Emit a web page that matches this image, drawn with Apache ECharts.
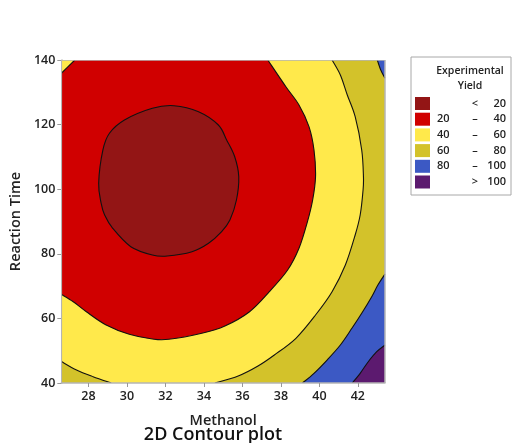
<!DOCTYPE html>
<html>
<head>
<meta charset="utf-8">
<script src="https://cdn.jsdelivr.net/npm/echarts@6/dist/echarts.min.js"></script>
<style>
  html, body { margin: 0; padding: 0; background: #fff; }
  #chart { width: 512px; height: 443px; }
</style>
</head>
<body>
<div id="chart"></div>
<script>
// Axis ranges and tick labels
const xRange = [26.59, 43.41];
const yRange = [40, 140];
const xTicks = [28, 30, 32, 34, 36, 38, 40, 42];
const yTicks = [40, 60, 80, 100, 120, 140];

// Yield levels (legend rows): low, separator, high
const levelRows = [
  ['', '<', '20'],
  ['20', '–', '40'],
  ['40', '–', '60'],
  ['60', '–', '80'],
  ['80', '–', '100'],
  ['', '>', '100']
];
const levelColors = ['#931515', '#D00000', '#FFE94B', '#D3C22A', '#3C59C4', '#5C1A6F'];

// Contour lines of the yield surface, [Methanol, Reaction Time]
const contour20 = [
  [32.44, 125.85], [33.72, 123.99], [34.75, 119.88], [35.18, 115.23], [35.60, 110.06],
  [35.81, 103.87], [35.69, 96.66], [35.35, 90.46], [34.92, 86.84], [34.24, 83.25],
  [33.38, 80.65], [32.09, 79.32], [31.32, 79.63], [30.20, 82.20], [29.26, 87.89],
  [28.84, 92.01], [28.66, 95.63], [28.53, 101.83], [28.75, 112.14], [29.09, 117.31],
  [29.87, 121.42], [31.32, 125.05]
];
const contour40Corner = [[27.29, 140], [26.59, 135.88]];
const contour40 = [
  [26.59, 67.46], [27.21, 65.17], [27.89, 62.07], [28.92, 57.96], [30.12, 55.08],
  [31.32, 53.62], [32.18, 53.53], [33.89, 55.39], [35.09, 57.65], [36.37, 62.07],
  [37.40, 68.27], [38.35, 74.98], [38.94, 81.70], [39.38, 89.94], [39.65, 96.66],
  [39.80, 103.87], [39.72, 112.14], [39.46, 119.35], [38.94, 126.07], [38.26, 131.73],
  [37.32, 140]
];
const contour60Corner = [[26.59, 46.66], [27.38, 44.02], [28.24, 41.95], [29.18, 40]];
const contour60 = [
  [34.57, 40], [35.78, 42.17], [36.81, 45.26], [37.66, 48.67], [38.78, 53.84],
  [39.80, 61.05], [40.66, 68.27], [41.35, 76.53], [41.86, 85.82], [42.12, 92.01],
  [42.27, 99.75], [42.29, 103.87], [42.20, 112.14], [41.86, 122.45], [41.45, 129.16],
  [41.09, 135.36], [40.66, 140]
];
const contour80Corner = [[43.01, 140], [43.19, 136.9], [43.41, 134.33]];
const contour80 = [
  [39.12, 40], [39.72, 43.0], [40.40, 47.12], [41.09, 51.76], [41.69, 56.93],
  [42.20, 61.58], [42.72, 66.72], [43.04, 70.34], [43.41, 73.75]
];
const contour100 = [
  [41.71, 40], [42.12, 43.0], [42.54, 46.59], [42.98, 49.69], [43.41, 51.76]
];

const X0 = xRange[0], X1 = xRange[1], Y0 = yRange[0], Y1 = yRange[1];

// Filled regions "yield below level", painted from the highest level down.
// Each region is a chain of pieces: plot-edge corners (straight) or contour lines (curved).
const regions = [
  { color: levelColors[5], pieces: [{ pts: [[X0, Y0], [X1, Y0], [X1, Y1], [X0, Y1]] }] },
  { color: levelColors[4], pieces: [{ pts: [[X0, Y0]] }, { pts: contour100, curve: true },
      { pts: [[X1, Y1], [X0, Y1]] }] },
  { color: levelColors[3], pieces: [{ pts: [[X0, Y0]] }, { pts: contour80, curve: true },
      { pts: contour80Corner.slice().reverse(), curve: true }, { pts: [[X0, Y1]] }] },
  { color: levelColors[2], pieces: [{ pts: [[X0, Y1]] }, { pts: contour60Corner, curve: true },
      { pts: contour60, curve: true }] },
  { color: levelColors[1], pieces: [{ pts: contour40Corner, curve: true },
      { pts: contour40, curve: true }] },
  { color: levelColors[0], pieces: [{ pts: contour20, curve: true, closed: true }] }
];
const lines = [
  { pts: contour20, closed: true }, { pts: contour40Corner }, { pts: contour40 },
  { pts: contour60Corner }, { pts: contour60 }, { pts: contour80Corner },
  { pts: contour80 }, { pts: contour100 }
];

// Cubic segments through pixel points (Catmull-Rom style tangents)
function curveSegs(p, closed) {
  const n = p.length;
  const get = i => closed ? p[(i + n) % n] : p[Math.max(0, Math.min(n - 1, i))];
  let d = '';
  const last = closed ? n : n - 1;
  for (let i = 0; i < last; i++) {
    const a = get(i - 1), b = get(i), c = get(i + 1), e = get(i + 2);
    const c1 = [b[0] + (c[0] - a[0]) / 6, b[1] + (c[1] - a[1]) / 6];
    const c2 = [c[0] - (e[0] - b[0]) / 6, c[1] - (e[1] - b[1]) / 6];
    d += ' C' + c1[0] + ',' + c1[1] + ' ' + c2[0] + ',' + c2[1] + ' ' + c[0] + ',' + c[1];
  }
  return d;
}

function regionPath(pieces, toPx) {
  let d = '';
  pieces.forEach((pc, k) => {
    const px = toPx(pc.pts);
    d += (k === 0 ? 'M' : ' L') + px[0][0] + ',' + px[0][1];
    if (pc.curve) {
      d += curveSegs(px, pc.closed);
    } else {
      for (let i = 1; i < px.length; i++) d += ' L' + px[i][0] + ',' + px[i][1];
    }
  });
  return d + ' Z';
}

const FONT = '"Open Sans", "Noto Sans", sans-serif';
const chart = echarts.init(document.getElementById('chart'), null, { renderer: 'canvas' });

function renderContours(params, api) {
  const toPx = pts => pts.map(p => api.coord(p));
  const children = [];
  regions.forEach(r => {
    children.push({
      type: 'path',
      shape: { pathData: regionPath(r.pieces, toPx) },
      style: { fill: r.color, stroke: null }
    });
  });
  lines.forEach(l => {
    const px = toPx(l.pts);
    children.push({
      type: 'path',
      shape: { pathData: 'M' + px[0][0] + ',' + px[0][1] + curveSegs(px, l.closed) },
      style: { fill: null, stroke: '#111', lineWidth: 1.1 }
    });
  });
  // plot frame
  children.push({
    type: 'polygon',
    shape: { points: toPx([[X0, Y0], [X1, Y0], [X1, Y1], [X0, Y1]]) },
    style: { fill: null, stroke: '#B5B5B5', lineWidth: 1.5 }
  });
  return { type: 'group', children: children };
}

// Legend drawn as graphics
const legendX = 411, legendY = 57;
const legendItems = [
  { type: 'rect', shape: { x: legendX, y: legendY, width: 100, height: 138 },
    style: { fill: '#fff', stroke: '#A8A8A8', lineWidth: 1 } },
  { type: 'text', x: 470, y: 71, style: { text: 'Experimental', font: '600 10.5px ' + FONT,
    fill: '#222', align: 'center', verticalAlign: 'middle' } },
  { type: 'text', x: 470, y: 86, style: { text: 'Yield', font: '600 10.5px ' + FONT,
    fill: '#222', align: 'center', verticalAlign: 'middle' } }
];
levelRows.forEach((row, i) => {
  const cy = 103.5 + i * 15.7;
  legendItems.push({ type: 'rect', shape: { x: 415, y: cy - 6.5, width: 15, height: 13 },
    style: { fill: levelColors[i] } });
  if (row[0]) legendItems.push({ type: 'text', x: 437, y: cy, style: { text: row[0],
    font: '600 11px ' + FONT, fill: '#222', align: 'left', verticalAlign: 'middle' } });
  legendItems.push({ type: 'text', x: 475, y: cy, style: { text: row[1],
    font: '600 11px ' + FONT, fill: '#222', align: 'center', verticalAlign: 'middle' } });
  legendItems.push({ type: 'text', x: 506, y: cy, style: { text: row[2],
    font: '600 11px ' + FONT, fill: '#222', align: 'right', verticalAlign: 'middle' } });
});

const option = {
  animation: false,
  grid: { left: 58, top: 60, width: 327, height: 323, containLabel: false },
  xAxis: {
    type: 'value', min: X0, max: X1,
    name: 'Methanol', nameLocation: 'middle', nameGap: 30,
    nameTextStyle: { fontFamily: FONT, fontSize: 14.5, fontWeight: 600, color: '#222' },
    axisLine: { show: true, lineStyle: { color: '#B5B5B5', width: 1.5 } },
    axisTick: { show: true, length: 4, lineStyle: { color: '#999' }, customValues: xTicks },
    axisLabel: { customValues: xTicks, margin: 7, fontFamily: FONT, fontSize: 12.5,
      fontWeight: 600, color: '#222' },
    splitLine: { show: false }
  },
  yAxis: {
    type: 'value', min: Y0, max: Y1, interval: 20,
    name: 'Reaction Time', nameLocation: 'middle', nameGap: 32,
    nameTextStyle: { fontFamily: FONT, fontSize: 14.5, fontWeight: 600, color: '#222' },
    axisLine: { show: true, lineStyle: { color: '#B5B5B5', width: 1.5 } },
    axisTick: { show: true, length: 4, lineStyle: { color: '#999' } },
    axisLabel: { margin: 6, fontFamily: FONT, fontSize: 12.5, fontWeight: 600, color: '#222',
      formatter: v => (yTicks.indexOf(v) >= 0 ? String(v) : '') },
    splitLine: { show: false }
  },
  series: [{
    type: 'custom',
    renderItem: renderContours,
    data: [[X0, Y0]],
    clip: true,
    z: 1,
    silent: true
  }],
  graphic: legendItems.concat([
    { type: 'text', x: 213, y: 435, style: { text: '2D Contour plot',
      font: '600 18px ' + FONT, fill: '#111', align: 'center', verticalAlign: 'middle' } }
  ])
};
chart.setOption(option);
</script>
</body>
</html>
